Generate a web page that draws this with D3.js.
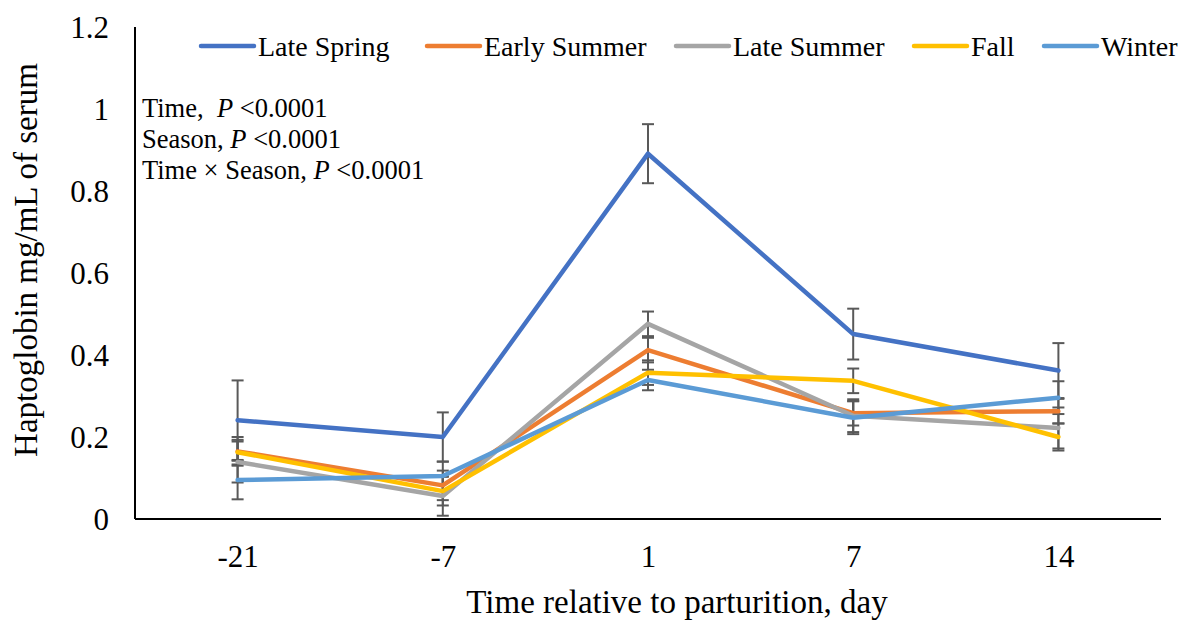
<!DOCTYPE html>
<html>
<head>
<meta charset="utf-8">
<script src="https://cdn.jsdelivr.net/npm/d3@7"></script>
<style>
  html, body { margin: 0; padding: 0; background: #fff; }
</style>
</head>
<body>
<svg id="chart" width="1184" height="621"></svg>
<script>
// Days relative to parturition
const days = ["-21", "-7", "1", "7", "14"];
const yTicks = [0, 0.2, 0.4, 0.6, 0.8, 1, 1.2];

// Haptoglobin means (mg/mL) per season
const lateSpring   = [0.241, 0.200, 0.891, 0.451, 0.362];
const earlySummer  = [0.165, 0.082, 0.412, 0.258, 0.263];
const lateSummer   = [0.139, 0.056, 0.476, 0.252, 0.222];
const fall         = [0.163, 0.068, 0.357, 0.337, 0.200];
const winter       = [0.095, 0.105, 0.339, 0.247, 0.296];

// Standard errors per season
const lateSpringSE  = [0.097, 0.060, 0.072, 0.062, 0.067];
const earlySummerSE = [0.035, 0.036, 0.030, 0.030, 0.030];
const lateSummerSE  = [0.050, 0.048, 0.030, 0.040, 0.050];
const fallSE        = [0.030, 0.035, 0.030, 0.030, 0.033];
const winterSE      = [0.047, 0.035, 0.025, 0.040, 0.040];

const seasonNames  = ["Late Spring", "Early Summer", "Late Summer", "Fall", "Winter"];
const seasonColors = ["#4472C4", "#ED7D31", "#A5A5A5", "#FFC000", "#5B9BD5"];

const series = [
  { name: seasonNames[0], values: lateSpring,  se: lateSpringSE,  color: seasonColors[0] },
  { name: seasonNames[1], values: earlySummer, se: earlySummerSE, color: seasonColors[1] },
  { name: seasonNames[2], values: lateSummer,  se: lateSummerSE,  color: seasonColors[2] },
  { name: seasonNames[3], values: fall,        se: fallSE,        color: seasonColors[3] },
  { name: seasonNames[4], values: winter,      se: winterSE,      color: seasonColors[4] }
];

const FONT = '"Liberation Serif", "Times New Roman", serif';
const svg = d3.select("#chart");
const plot = { left: 135, right: 1161, top: 27, bottom: 519 };

const x = d3.scalePoint().domain(days).range([plot.left, plot.right]).padding(0.5);
const y = d3.scaleLinear().domain([0, 1.2]).range([plot.bottom, plot.top]);

// Y axis: labels only, with a plain vertical line
const yAxis = d3.axisLeft(y).tickValues(yTicks).tickSize(0).tickPadding(26)
  .tickFormat(d => d3.format("~g")(d));
const gy = svg.append("g").attr("transform", `translate(${plot.left},0)`).call(yAxis);
gy.select(".domain").remove();
gy.selectAll("text")
  .style("font-family", FONT).style("font-size", "31px").style("fill", "#000")
  .attr("dy", "0.34em");

// X axis: labels only
const xAxis = d3.axisBottom(x).tickSize(0);
const gx = svg.append("g").attr("transform", `translate(0,${plot.bottom})`).call(xAxis);
gx.select(".domain").remove();
gx.selectAll("text")
  .style("font-family", FONT).style("font-size", "31px").style("fill", "#000")
  .attr("y", 48).attr("dy", 0);

// Axis lines
svg.append("line")
  .attr("x1", plot.left).attr("x2", plot.left)
  .attr("y1", y(1.2)).attr("y2", plot.bottom)
  .attr("stroke", "#000").attr("stroke-width", 2);
svg.append("line")
  .attr("x1", plot.left).attr("x2", plot.right)
  .attr("y1", plot.bottom).attr("y2", plot.bottom)
  .attr("stroke", "#000").attr("stroke-width", 2);

// Error bars
const capHalf = 6;
const errG = svg.append("g").attr("stroke", "#595959").attr("stroke-width", 2);
series.forEach(s => {
  s.values.forEach((v, i) => {
    const cx = x(days[i]);
    const hi = y(v + s.se[i]), lo = y(v - s.se[i]);
    errG.append("line").attr("x1", cx).attr("x2", cx).attr("y1", hi).attr("y2", lo);
    errG.append("line").attr("x1", cx - capHalf).attr("x2", cx + capHalf).attr("y1", hi).attr("y2", hi);
    errG.append("line").attr("x1", cx - capHalf).attr("x2", cx + capHalf).attr("y1", lo).attr("y2", lo);
  });
});

// Season lines
const line = d3.line().x((d, i) => x(days[i])).y(d => y(d));
svg.append("g").selectAll("path").data(series).join("path")
  .attr("d", d => line(d.values))
  .attr("fill", "none")
  .attr("stroke", d => d.color)
  .attr("stroke-width", 4.5)
  .attr("stroke-linecap", "round")
  .attr("stroke-linejoin", "round");

// Legend
const legendX = [201, 427, 676, 914, 1044];
const legendY = 46;
const lg = svg.append("g");
series.forEach((s, i) => {
  const lx = legendX[i];
  lg.append("line")
    .attr("x1", lx).attr("x2", lx + 53)
    .attr("y1", legendY).attr("y2", legendY)
    .attr("stroke", s.color).attr("stroke-width", 4.5).attr("stroke-linecap", "round");
  lg.append("text")
    .attr("x", lx + 57).attr("y", legendY).attr("dy", "0.34em")
    .style("font-family", FONT).style("font-size", "28px")
    .text(s.name);
});

// Statistics annotation
const stats = [
  ["Time,  ", "<0.0001"],
  ["Season, ", "<0.0001"],
  ["Time \u00d7 Season, ", "<0.0001"]
];
stats.forEach((row, i) => {
  const t = svg.append("text")
    .attr("x", 142).attr("y", 108 + i * 31).attr("dy", "0.34em")
    .style("font-family", FONT).style("font-size", "26.5px")
    .style("white-space", "pre");
  t.append("tspan").text(row[0]);
  t.append("tspan").style("font-style", "italic").text("P");
  t.append("tspan").text(" " + row[1]);
});

// Axis titles
svg.append("text")
  .attr("x", 677).attr("y", 613)
  .attr("text-anchor", "middle")
  .style("font-family", FONT).style("font-size", "33px")
  .text("Time relative to parturition, day");

svg.append("text")
  .attr("transform", `translate(37,260) rotate(-90)`)
  .attr("text-anchor", "middle")
  .style("font-family", FONT).style("font-size", "33px")
  .text("Haptoglobin mg/mL of serum");
</script>
</body>
</html>
